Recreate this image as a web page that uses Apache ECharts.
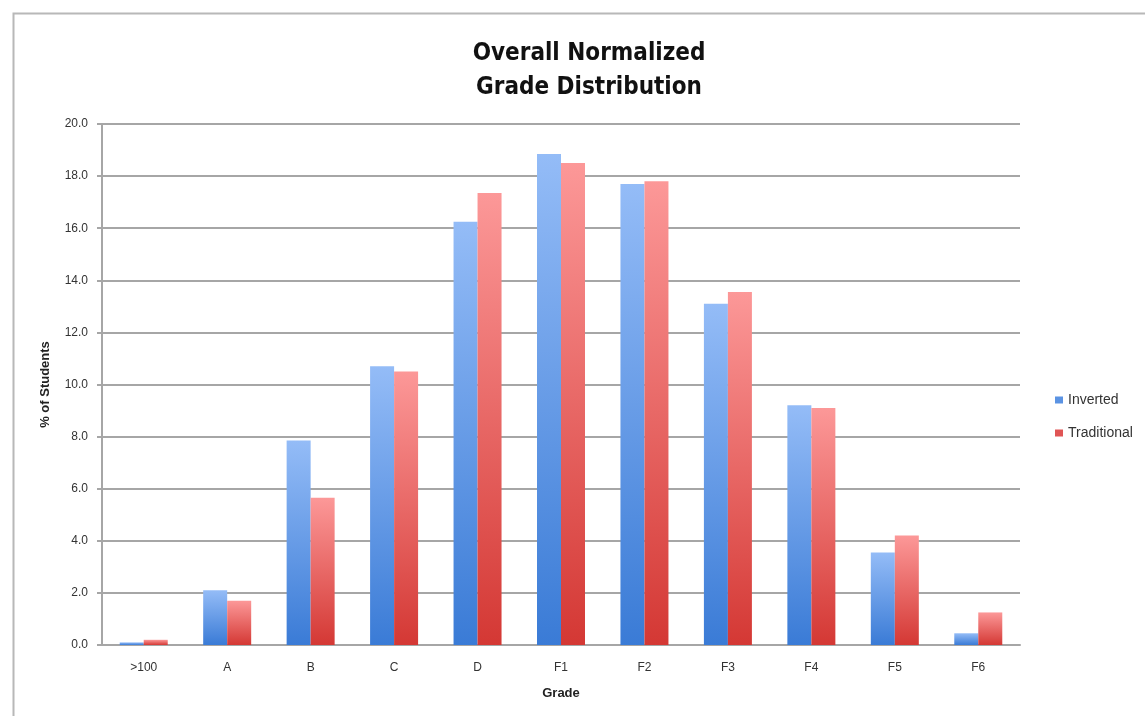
<!DOCTYPE html>
<html>
<head>
<meta charset="utf-8">
<script src="https://cdn.jsdelivr.net/npm/echarts@6/dist/echarts.min.js"></script>
<style>
html,body{margin:0;padding:0;background:#fff;}
#chart{width:1145px;height:716px;}
</style>
</head>
<body>
<div id="chart"></div>
<script>
var categories = ['>100', 'A', 'B', 'C', 'D', 'F1', 'F2', 'F3', 'F4', 'F5', 'F6'];
var inverted = [0.1, 2.1, 7.85, 10.7, 16.25, 18.85, 17.7, 13.1, 9.2, 3.55, 0.45];
var traditional = [0.2, 1.7, 5.65, 10.5, 17.35, 18.5, 17.8, 13.55, 9.1, 4.2, 1.25];
var yTicks = { min: 0, max: 20, interval: 2 };

var chart = echarts.init(document.getElementById('chart'));
function grad(top, bottom) {
  return new echarts.graphic.LinearGradient(0, 0, 0, 1, [
    { offset: 0, color: top }, { offset: 1, color: bottom }
  ]);
}
var titleFont = '"DejaVu Sans Condensed", "Liberation Sans", sans-serif';
chart.setOption({
  backgroundColor: '#fff',
  animation: false,
  graphic: [{
    type: 'rect', left: 11, top: 11, z: -10,
    shape: { width: 1200, height: 800 },
    style: { fill: 'none', stroke: '#b8b8b8', lineWidth: 2 }
  }],
  title: {
    text: 'Overall Normalized\nGrade Distribution',
    left: 584, top: 32, textAlign: 'center',
    textStyle: { fontFamily: titleFont, fontWeight: 'bold', fontSize: 24, lineHeight: 34, color: '#111' }
  },
  legend: {
    orient: 'vertical', left: 1050, top: 388,
    itemWidth: 8, itemHeight: 7, itemGap: 19,
    icon: 'rect',
    textStyle: { fontFamily: '"Liberation Sans", sans-serif', fontSize: 14, color: '#333' },
    data: [
      { name: 'Inverted', itemStyle: { color: '#5b93e3' } },
      { name: 'Traditional', itemStyle: { color: '#e05555' } }
    ]
  },
  grid: { left: 102, right: 125, top: 124, bottom: 71 },
  xAxis: {
    type: 'category', data: categories,
    name: 'Grade', nameLocation: 'middle', nameGap: 42,
    nameTextStyle: { fontFamily: '"Liberation Sans", sans-serif', fontWeight: 'bold', fontSize: 13, color: '#222' },
    axisLine: { lineStyle: { color: '#a6a6a6', width: 2 } },
    axisTick: { show: false },
    axisLabel: { margin: 17, fontFamily: '"Liberation Sans", sans-serif', fontSize: 12, color: '#333' }
  },
  yAxis: {
    type: 'value', min: yTicks.min, max: yTicks.max, interval: yTicks.interval,
    name: '% of Students', nameLocation: 'middle', nameGap: 50, nameRotate: 90,
    nameTextStyle: { fontFamily: '"Liberation Sans", sans-serif', fontWeight: 'bold', fontSize: 13, color: '#222' },
    axisLine: { show: true, lineStyle: { color: '#a6a6a6', width: 2 } },
    axisTick: { show: true, length: 5, lineStyle: { color: '#a6a6a6', width: 2 } },
    splitLine: { lineStyle: { color: '#a6a6a6', width: 2 } },
    axisLabel: {
      margin: 14, fontFamily: '"Liberation Sans", sans-serif', fontSize: 12, color: '#333',
      formatter: function (v) { return v.toFixed(1); }
    }
  },
  series: [
    {
      name: 'Inverted', type: 'bar', data: inverted, barWidth: 24, barGap: '0%',
      itemStyle: { color: grad('#94bcf7', '#3a7bd6') }
    },
    {
      name: 'Traditional', type: 'bar', data: traditional, barWidth: 24, barGap: '0%',
      itemStyle: { color: grad('#fc9898', '#d43834') }
    }
  ]
});
</script>
</body>
</html>
